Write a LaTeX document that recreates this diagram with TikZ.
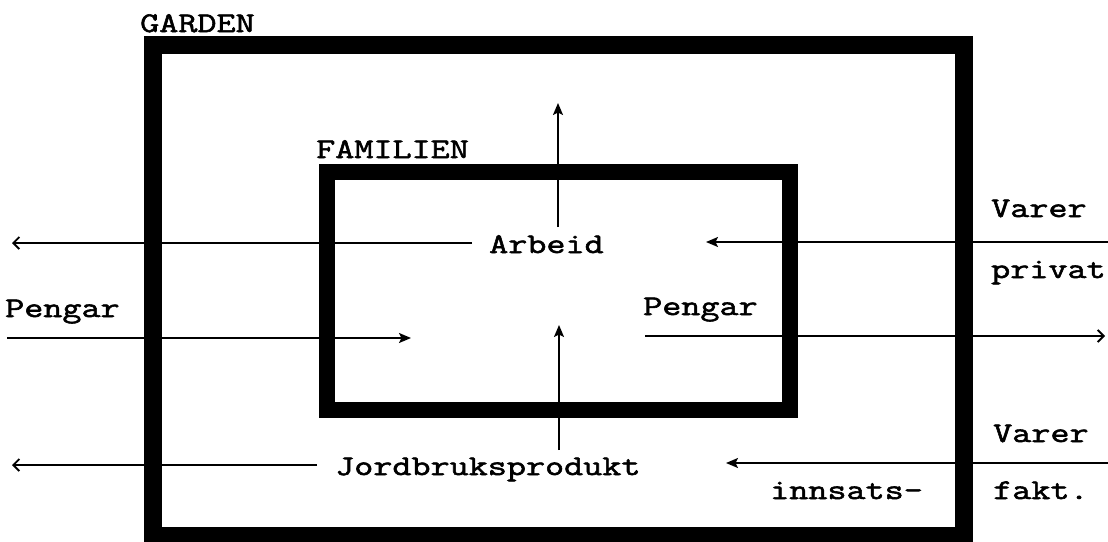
\documentclass[tikz,border=0pt]{standalone}
\usepackage{fontspec}
\setmonofont[FakeStretch=1.3,FakeBold=2]{Latin Modern Mono}
\usetikzlibrary{arrows.meta}
\begin{document}
\begin{tikzpicture}[x=1pt,y=-1pt,
  frame/.style={line width=18pt,line join=miter},
  innerframe/.style={line width=16pt,line join=miter},
  flow/.style={line width=1.9pt,-{Stealth[length=12pt,width=10pt,inset=2.5pt]}},
  outflow/.style={line width=1.9pt,-{Straight Barb[length=6pt,width=12pt,line width=1.9pt]}},
  lbl/.style={font=\fontsize{28.5}{34}\selectfont\ttfamily,inner sep=0pt,anchor=base west}]
\useasboundingbox (0,0) rectangle (1108,541);
\fill[white] (0,0) rectangle (1108,541);

% the farm and the family
\draw[frame] (153,45) rectangle (964,536);
\draw[innerframe] (327,172) rectangle (790,410);

% labels
\node[lbl] (garden) at (140,32) {GARDEN};
\node[lbl] (familien) at (316,158) {FAMILIEN};
\node[lbl] (arbeid) at (489,253) {Arbeid};
\node[lbl] (pengarL) at (5,317) {Pengar};
\node[lbl] (pengarR) at (643,315) {Pengar};
\node[lbl] (jord) at (335,475) {Jordbruksprodukt};
\node[lbl] (vareP) at (991,217) {Varer};
\node[lbl] (privat) at (991,278) {privat};
\node[lbl] (vareI) at (993,442) {Varer};
\node[lbl] (innsats) at (770,499) {innsats-};
\node[lbl] (fakt) at (993,499) {fakt.};

% connector ends
\coordinate (arbS) at (472,243);
\coordinate (arbE) at (12,243);
\coordinate (arbUpS) at (558,227);
\coordinate (arbUpE) at (558,103);
\coordinate (privS) at (1108,242);
\coordinate (privE) at (706,242);
\coordinate (penLS) at (7,338);
\coordinate (penLE) at (411,338);
\coordinate (penRS) at (645,336);
\coordinate (penRE) at (1105,336);
\coordinate (jordUpS) at (559,450);
\coordinate (jordUpE) at (559,325);
\coordinate (jordS) at (317,465);
\coordinate (jordE) at (12,465);
\coordinate (innS) at (1108,463);
\coordinate (innE) at (726,463);

% flows
\draw[outflow] (arbS) -- (arbE);
\draw[flow] (arbUpS) -- (arbUpE);
\draw[flow] (privS) -- (privE);
\draw[flow] (penLS) -- (penLE);
\draw[outflow] (penRS) -- (penRE);
\draw[flow] (jordUpS) -- (jordUpE);
\draw[outflow] (jordS) -- (jordE);
\draw[flow] (innS) -- (innE);
\end{tikzpicture}
\end{document}
